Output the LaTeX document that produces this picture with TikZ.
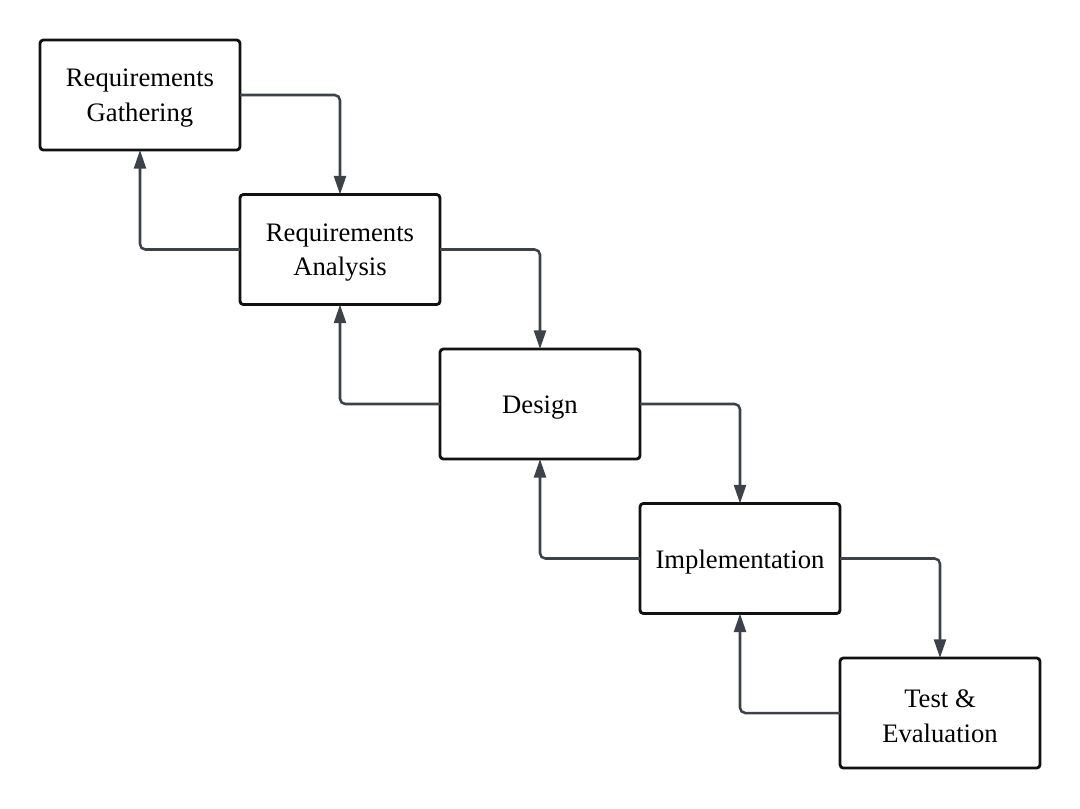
\documentclass[tikz,border=0pt]{standalone}
\usepackage{fontspec}
\setmainfont{Liberation Serif}
\usetikzlibrary{arrows.meta}
\definecolor{arrowgray}{HTML}{3D424A}
\definecolor{boxblack}{HTML}{111111}
\begin{document}
\begin{tikzpicture}[x=0.75pt,y=-0.75pt,
  stage/.style={draw=boxblack, line width=2.1pt, rounded corners=2.5pt, fill=white,
    minimum width=150pt, minimum height=82.5pt, inner sep=0pt, outer sep=0pt},
  stagetext/.style={align=center, inner sep=0pt, font=\fontsize{20}{26}\selectfont},
  flow/.style={draw=arrowgray, line width=1.9pt, rounded corners=4pt,
    -{Triangle[length=14pt,width=9pt]}}]
\useasboundingbox (0,0) rectangle (1080,808);
\node[stage] (g) at (140,95) {};
\node[stage] (a) at (340,249.5) {};
\node[stage] (d) at (540,404) {};
\node[stage] (i) at (740,558.5) {};
\node[stage] (t) at (940,713) {};
\node[stagetext] (gt) at ([yshift=-2.3pt]g.center) {Requirements\\Gathering};
\node[stagetext] (at) at ([yshift=-2.3pt]a.center) {Requirements\\Analysis};
\node[stagetext] (dt) at ([yshift=-3pt]d.center) {Design};
\node[stagetext] (it) at ([yshift=-3pt]i.center) {Implementation};
\node[stagetext] (tt) at ([yshift=-2.3pt]t.center) {Test \&\\Evaluation};
\draw[flow] (g.east) -| (a.north);
\draw[flow] (a.east) -| (d.north);
\draw[flow] (d.east) -| (i.north);
\draw[flow] (i.east) -| (t.north);
\draw[flow] (a.west) -| (g.south);
\draw[flow] (d.west) -| (a.south);
\draw[flow] (i.west) -| (d.south);
\draw[flow] (t.west) -| (i.south);
\end{tikzpicture}
\end{document}
